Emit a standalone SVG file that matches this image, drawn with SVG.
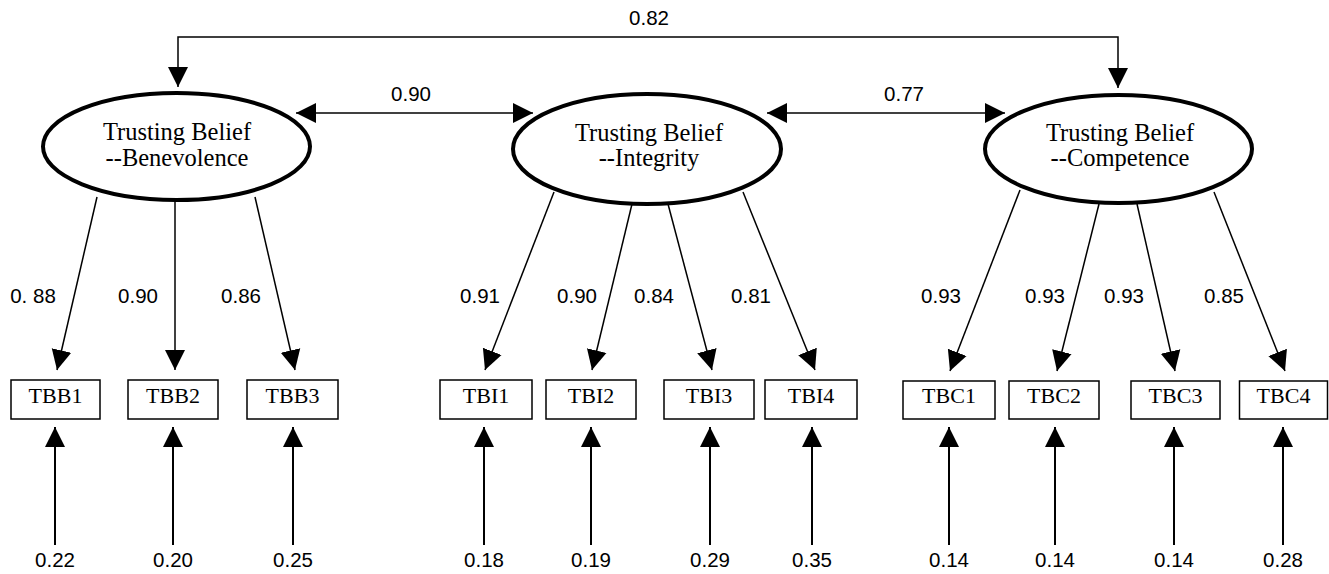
<svg xmlns="http://www.w3.org/2000/svg" width="1329" height="574" viewBox="0 0 1329 574">
<style>
.lat{fill:#fff;stroke:#000;stroke-width:4}
.obs{fill:#fff;stroke:#000;stroke-width:1.5}
.lt{font-family:"Liberation Serif","Times New Roman",serif;font-size:24.5px;text-anchor:middle;fill:#000}
.ot{font-family:"Liberation Serif","Times New Roman",serif;font-size:22px;text-anchor:middle;fill:#000}
.num{font-family:"Liberation Sans",Arial,sans-serif;font-size:20.5px;text-anchor:middle;fill:#000}
.c{fill:none;stroke:#000;stroke-width:1.5;marker-end:url(#ah)}
.e{fill:none;stroke:#000;stroke-width:2;marker-end:url(#ah)}
.b{fill:none;stroke:#000;stroke-width:1.5;marker-end:url(#ah);marker-start:url(#ah)}
</style>
<defs>
<marker id="ah" viewBox="0 0 20 20" refX="20" refY="10" markerWidth="20" markerHeight="21" markerUnits="userSpaceOnUse" orient="auto-start-reverse">
<path d="M0,0 L20,10 L0,20 z" fill="#000"/>
</marker>
</defs>
<rect width="1329" height="574" fill="#fff"/>
<g id="connectors">
<path class="b" d="M178,87 V37 H1118 V88"/>
<path class="b" d="M296,113 H533"/>
<path class="b" d="M767,113 H1005"/>
<path class="c" d="M97,197 L57,370"/>
<path class="c" d="M175,200 L175,370"/>
<path class="c" d="M255,197 L295,370"/>
<path class="c" d="M554,192 L485,370"/>
<path class="c" d="M632,204 L592,370"/>
<path class="c" d="M668,204 L712,370"/>
<path class="c" d="M743,192 L815,370"/>
<path class="c" d="M1020,190 L950,371"/>
<path class="c" d="M1099,204 L1057,371"/>
<path class="c" d="M1137,204 L1175,371"/>
<path class="c" d="M1214,192 L1285,371"/>
<path class="e" d="M55,545 V427"/>
<path class="e" d="M173,545 V427"/>
<path class="e" d="M293,545 V427"/>
<path class="e" d="M484,545 V427"/>
<path class="e" d="M591,545 V427"/>
<path class="e" d="M710,545 V427"/>
<path class="e" d="M812,545 V427"/>
<path class="e" d="M949,545 V427"/>
<path class="e" d="M1055,545 V427"/>
<path class="e" d="M1174,545 V427"/>
<path class="e" d="M1283,545 V427"/>
</g>
<g id="labels">
<text class="num" x="649" y="25">0.82</text>
<text class="num" x="411" y="101">0.90</text>
<text class="num" x="904" y="101">0.77</text>
<text class="num" x="33" y="303">0. 88</text>
<text class="num" x="138" y="303">0.90</text>
<text class="num" x="241" y="303">0.86</text>
<text class="num" x="480" y="303">0.91</text>
<text class="num" x="577" y="303">0.90</text>
<text class="num" x="654" y="303">0.84</text>
<text class="num" x="751" y="303">0.81</text>
<text class="num" x="941" y="303">0.93</text>
<text class="num" x="1045" y="303">0.93</text>
<text class="num" x="1124" y="303">0.93</text>
<text class="num" x="1224" y="303">0.85</text>
<text class="num" x="55" y="567">0.22</text>
<text class="num" x="173" y="567">0.20</text>
<text class="num" x="293" y="567">0.25</text>
<text class="num" x="484" y="567">0.18</text>
<text class="num" x="591" y="567">0.19</text>
<text class="num" x="710" y="567">0.29</text>
<text class="num" x="812" y="567">0.35</text>
<text class="num" x="949" y="567">0.14</text>
<text class="num" x="1055" y="567">0.14</text>
<text class="num" x="1174" y="567">0.14</text>
<text class="num" x="1283" y="567">0.28</text>
</g>
<g id="TBBenevolence">
<ellipse class="lat" cx="176.5" cy="146.5" rx="133.5" ry="53.5"/>
<text class="lt" x="177" y="140">Trusting Belief</text>
<text class="lt" x="177" y="166">--Benevolence</text>
</g>
<g id="TBIntegrity">
<ellipse class="lat" cx="647" cy="149" rx="134" ry="55"/>
<text class="lt" x="649" y="141">Trusting Belief</text>
<text class="lt" x="649" y="166">--Integrity</text>
</g>
<g id="TBCompetence">
<ellipse class="lat" cx="1118.5" cy="149" rx="133.5" ry="54"/>
<text class="lt" x="1120" y="141">Trusting Belief</text>
<text class="lt" x="1120" y="166">--Competence</text>
</g>
<g id="TBB1"><rect class="obs" x="11" y="380" width="89" height="39"/><text class="ot" x="55.5" y="403">TBB1</text></g>
<g id="TBB2"><rect class="obs" x="128" y="380" width="90" height="39"/><text class="ot" x="173" y="403">TBB2</text></g>
<g id="TBB3"><rect class="obs" x="247" y="380" width="91" height="39"/><text class="ot" x="292.5" y="403">TBB3</text></g>
<g id="TBI1"><rect class="obs" x="440" y="380" width="92" height="39"/><text class="ot" x="486" y="403">TBI1</text></g>
<g id="TBI2"><rect class="obs" x="546" y="380" width="90" height="39"/><text class="ot" x="591" y="403">TBI2</text></g>
<g id="TBI3"><rect class="obs" x="664" y="380" width="90" height="39"/><text class="ot" x="709" y="403">TBI3</text></g>
<g id="TBI4"><rect class="obs" x="765" y="380" width="92" height="39"/><text class="ot" x="811" y="403">TBI4</text></g>
<g id="TBC1"><rect class="obs" x="903" y="381" width="92" height="38"/><text class="ot" x="949" y="403">TBC1</text></g>
<g id="TBC2"><rect class="obs" x="1009" y="381" width="90" height="38"/><text class="ot" x="1054" y="403">TBC2</text></g>
<g id="TBC3"><rect class="obs" x="1131" y="381" width="89" height="38"/><text class="ot" x="1175.5" y="403">TBC3</text></g>
<g id="TBC4"><rect class="obs" x="1239.5" y="381" width="88" height="38"/><text class="ot" x="1283.5" y="403">TBC4</text></g>
</svg>
